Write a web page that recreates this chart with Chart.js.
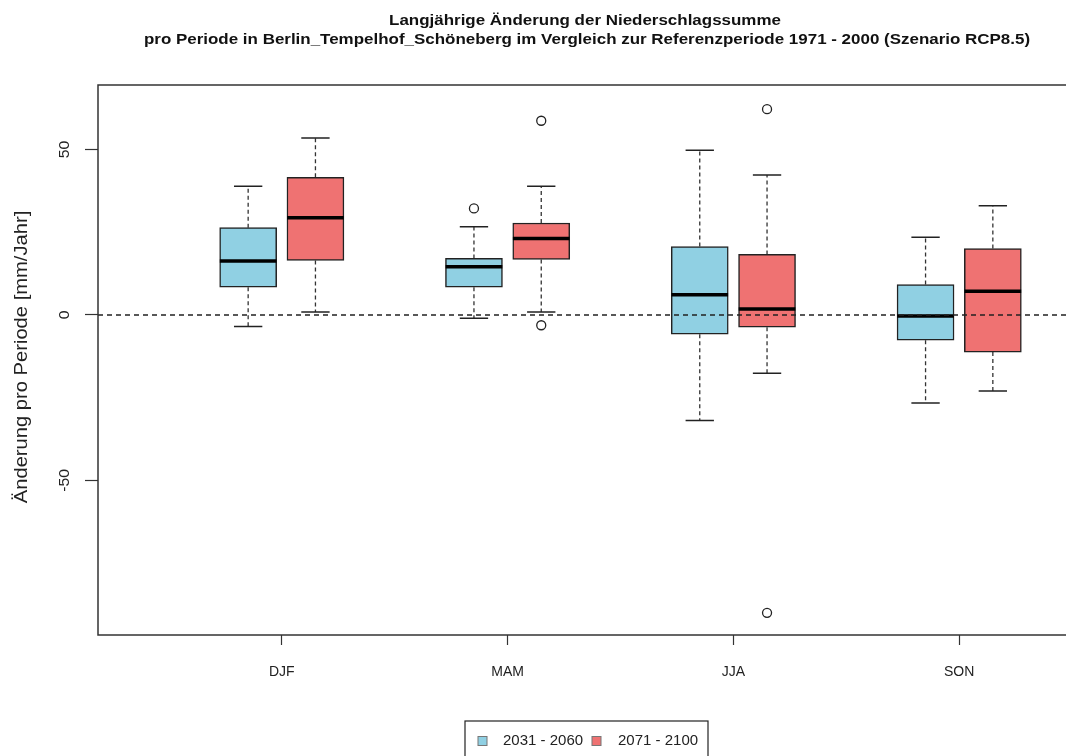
<!DOCTYPE html>
<html>
<head>
<meta charset="utf-8">
<script src="https://cdn.jsdelivr.net/npm/chart.js@4.4.1/dist/chart.umd.min.js"></script>
<style>
  body { margin: 0; background: #fff; }
  .wrap { width: 1066px; height: 756px; overflow: hidden; position: relative; }
  canvas { display: block; }
</style>
</head>
<body>
<div class="wrap"><canvas id="myChart" width="1180" height="770"></canvas></div>
<script>
//data
const categories = ['DJF', 'MAM', 'JJA', 'SON'];
const seriesNames = ['2031 - 2060', '2071 - 2100'];

// 2031 - 2060
const lowA = [-3.5, -1.0, -31.9, -26.6];
const q1A = [8.4, 8.4, -5.8, -7.6];
const medA = [16.3, 14.6, 6.1, -0.3];
const q3A = [26.4, 17.1, 20.7, 9.2];
const highA = [38.9, 26.7, 49.8, 23.5];
const outA = [[], [32.2], [], []];

// 2071 - 2100
const lowB = [0.9, 0.9, -17.6, -23.0];
const q1B = [16.5, 16.8, -3.7, -11.2];
const medB = [29.4, 23.1, 1.8, 7.2];
const q3B = [41.6, 27.8, 18.3, 20.1];
const highB = [53.5, 38.9, 42.3, 33.0];
const outB = [[], [58.7, -3.1], [62.2, -90.0], []];

const yTicks = [-50, 0, 50];

//styles
const colA = '#90d0e3';
const colB = '#ef7272';
const ink = '#222';
const shift = 0.149;   // box offset from category centre (x units)
const boxW = 0.251;    // box width (x units)
const font = '"Liberation Sans", Arial, sans-serif';

const series = [
  {low: lowA, q1: q1A, med: medA, q3: q3A, high: highA, out: outA, col: colA, dx: -shift},
  {low: lowB, q1: q1B, med: medB, q3: q3B, high: highB, out: outB, col: colB, dx: shift}
];

const boxDatasets = series.map((s, k) => ({
  type: 'bar',
  label: seriesNames[k],
  data: categories.map((c, i) => ({x: i + 1 + s.dx, y: [s.q1[i], s.q3[i]]})),
  backgroundColor: s.col,
  borderColor: ink,
  borderWidth: 1.5,
  borderSkipped: false,
  grouped: false,
  barThickness: 57,
  order: 2
}));

const outlierPoints = [];
series.forEach(s => s.out.forEach((vals, i) => vals.forEach(v => outlierPoints.push({x: i + 1 + s.dx, y: v}))));

const outlierDataset = {
  type: 'scatter',
  label: 'out',
  data: outlierPoints,
  pointStyle: 'circle',
  pointRadius: 4.5,
  pointBorderWidth: 1.3,
  pointBorderColor: ink,
  pointBackgroundColor: 'rgba(0,0,0,0)',
  order: 1
};

// text squeezed/stretched along its direction, like the original png
const stretchText = (c, txt, x, y, sx) => {
  c.save();
  c.translate(x, y);
  c.scale(sx, 1);
  c.fillText(txt, 0, 0);
  c.restore();
};

//whiskers, medians, frame, texts
const boxPlugin = {
  id: 'boxPlugin',
  beforeDatasetsDraw(chart) {
    const {ctx, scales: {x, y}} = chart;
    ctx.save();
    series.forEach(s => {
      categories.forEach((c, i) => {
        const cx = x.getPixelForValue(i + 1 + s.dx);
        const half = (x.getPixelForValue(boxW / 4) - x.getPixelForValue(0));
        ctx.strokeStyle = '#333';
        ctx.lineWidth = 1.3;
        ctx.setLineDash([4, 3]);
        ctx.beginPath();
        ctx.moveTo(cx, y.getPixelForValue(s.q3[i]));
        ctx.lineTo(cx, y.getPixelForValue(s.high[i]));
        ctx.moveTo(cx, y.getPixelForValue(s.q1[i]));
        ctx.lineTo(cx, y.getPixelForValue(s.low[i]));
        ctx.stroke();
        ctx.setLineDash([]);
        ctx.strokeStyle = ink;
        ctx.lineWidth = 1.5;
        ctx.beginPath();
        ctx.moveTo(cx - half, y.getPixelForValue(s.high[i]));
        ctx.lineTo(cx + half, y.getPixelForValue(s.high[i]));
        ctx.moveTo(cx - half, y.getPixelForValue(s.low[i]));
        ctx.lineTo(cx + half, y.getPixelForValue(s.low[i]));
        ctx.stroke();
      });
    });
    ctx.restore();
  },
  afterDatasetsDraw(chart) {
    const {ctx, chartArea, scales: {x, y}} = chart;
    ctx.save();
    // medians
    series.forEach(s => {
      categories.forEach((c, i) => {
        const x0 = x.getPixelForValue(i + 1 + s.dx - boxW / 2);
        const x1 = x.getPixelForValue(i + 1 + s.dx + boxW / 2);
        const my = y.getPixelForValue(s.med[i]);
        ctx.strokeStyle = '#000';
        ctx.lineWidth = 3.5;
        ctx.beginPath();
        ctx.moveTo(x0, my);
        ctx.lineTo(x1, my);
        ctx.stroke();
      });
    });
    // zero line
    const zy = y.getPixelForValue(0);
    ctx.strokeStyle = '#222';
    ctx.lineWidth = 1.3;
    ctx.setLineDash([5, 4]);
    ctx.beginPath();
    ctx.moveTo(chartArea.left, zy);
    ctx.lineTo(chartArea.right, zy);
    ctx.stroke();
    ctx.setLineDash([]);
    // frame
    ctx.strokeStyle = '#333';
    ctx.lineWidth = 1.5;
    ctx.strokeRect(chartArea.left, chartArea.top, chartArea.right - chartArea.left, chartArea.bottom - chartArea.top);
    ctx.restore();
  },
  afterDraw(chart) {
    const {ctx, chartArea, scales: {y}} = chart;
    ctx.save();
    ctx.fillStyle = '#111';
    // title
    ctx.textAlign = 'center';
    ctx.textBaseline = 'middle';
    ctx.font = 'bold 15px ' + font;
    stretchText(ctx, 'Langjährige Änderung der Niederschlagssumme', 585, 21, 1.13);
    stretchText(ctx, 'pro Periode in Berlin_Tempelhof_Schöneberg im Vergleich zur Referenzperiode 1971 - 2000 (Szenario RCP8.5)', 587, 40, 1.13);
    // y tick labels + title (rotated)
    ctx.fillStyle = '#222';
    ctx.font = '15px ' + font;
    yTicks.forEach(v => {
      ctx.save();
      ctx.translate(65, y.getPixelForValue(v));
      ctx.rotate(-Math.PI / 2);
      stretchText(ctx, String(v), 0, 0, 1.05);
      ctx.restore();
    });
    ctx.save();
    ctx.font = '18px ' + font;
    ctx.translate(22, (chartArea.top + chartArea.bottom) / 2 - 3);
    ctx.rotate(-Math.PI / 2);
    stretchText(ctx, 'Änderung pro Periode [mm/Jahr]', 0, 0, 1.12);
    ctx.restore();
    // legend
    ctx.strokeStyle = '#222';
    ctx.lineWidth = 1.2;
    ctx.strokeRect(465, 721, 243, 60);
    ctx.font = '15px ' + font;
    ctx.textAlign = 'left';
    const items = [[478, 503], [592, 618]];
    items.forEach((it, k) => {
      ctx.fillStyle = series[k].col;
      ctx.fillRect(it[0], 736.5, 9, 9);
      ctx.strokeStyle = '#777';
      ctx.lineWidth = 1;
      ctx.strokeRect(it[0], 736.5, 9, 9);
      ctx.fillStyle = '#222';
      ctx.fillText(seriesNames[k], it[1], 741);
    });
    ctx.restore();
  }
};

const ctx = document.getElementById('myChart');
const myChart = new Chart(ctx, {
  type: 'bar',
  data: {datasets: [...boxDatasets, outlierDataset]},
  options: {
    responsive: false,
    animation: false,
    layout: {padding: {left: 0, top: 85, right: 37, bottom: 85}},
    plugins: {legend: {display: false}, tooltip: {enabled: false}, title: {display: false}},
    scales: {
      x: {
        type: 'linear',
        min: 0.186,
        max: 4.814,
        offset: false,
        afterBuildTicks: scale => { scale.ticks = categories.map((c, i) => ({value: i + 1})); },
        afterFit: scale => { scale.height = 50; },
        ticks: {
          autoSkip: false,
          maxRotation: 0,
          padding: 19,
          color: '#222',
          font: {family: font, size: 14},
          callback: v => categories[v - 1]
        },
        grid: {drawOnChartArea: false, offset: false, tickLength: 10, tickColor: '#333', tickWidth: 1.2},
        border: {display: false}
      },
      y: {
        type: 'linear',
        min: -96.7,
        max: 69.5,
        afterBuildTicks: scale => { scale.ticks = yTicks.map(v => ({value: v})); },
        afterFit: scale => { scale.width = 98; },
        ticks: {display: false},
        grid: {drawOnChartArea: false, tickLength: 13, tickColor: '#333', tickWidth: 1.2},
        border: {display: false}
      }
    }
  },
  plugins: [boxPlugin]
});
</script>
</body>
</html>
